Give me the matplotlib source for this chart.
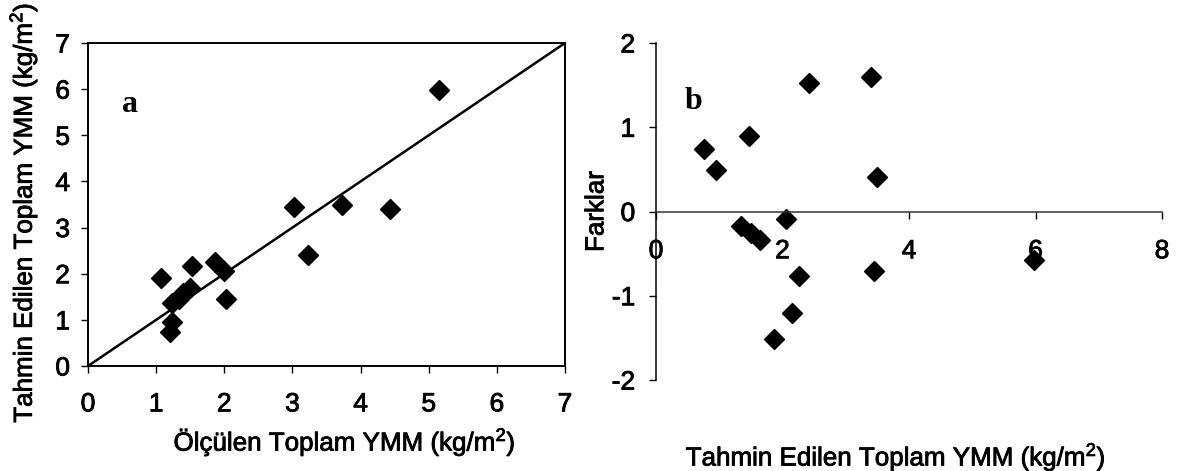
import matplotlib
matplotlib.use('Agg')
import matplotlib.pyplot as plt
import matplotlib.patheffects as pe

plt.rcParams['font.family'] = ['Liberation Sans', 'DejaVu Sans']
plt.rcParams['mathtext.fontset'] = 'custom'
plt.rcParams['mathtext.rm'] = 'Liberation Sans'
plt.rcParams['mathtext.default'] = 'regular'

# panel a: measured vs predicted
olculen = [5.15, 3.02, 3.73, 4.43, 3.23, 1.07, 1.52, 1.87, 2.00, 2.02,
           1.49, 1.40, 1.24, 1.24, 1.21, 1.33]
tahmin = [5.99, 3.44, 3.48, 3.41, 2.41, 1.91, 2.16, 2.25, 2.06, 1.46,
          1.69, 1.58, 1.37, 0.96, 0.74, 1.46]
line_x = [0, 7]
line_y = [0, 7]

# panel b: predicted vs differences
tahmin_b = [0.76, 0.95, 1.47, 2.42, 3.40, 3.49, 1.34, 1.50, 1.65, 2.05,
            2.26, 2.15, 1.87, 3.45, 5.97]
farklar = [0.745, 0.49, 0.90, 1.52, 1.60, 0.41, -0.17, -0.26, -0.34, -0.09,
           -0.76, -1.21, -1.51, -0.71, -0.58]

W, H = 1182, 471
TICK_FS = 19
LABEL_FS = 18.7
# scanned print looks a bit heavier than the plain font
heavy = [pe.withStroke(linewidth=0.6, foreground='black')]

fig = plt.figure(figsize=(W / 100, H / 100), dpi=100)

def box(l, t, r, b):
    return [l / W, 1 - b / H, (r - l) / W, (b - t) / H]

# --- a ---
ax1 = fig.add_axes(box(88, 43, 565, 366))
ax1.plot(line_x, line_y, color='black', lw=1.8)
ax1.plot(olculen, tahmin, 'D', color='black', ms=10.5, clip_on=False)
ax1.set_xlim(0, 7)
ax1.set_ylim(0, 7)
ax1.set_xticks(range(0, 8))
ax1.set_yticks(range(0, 8))
for s in ax1.spines.values():
    s.set_linewidth(1.4)
ax1.tick_params(axis='x', direction='out', length=5, width=1, pad=14, labelsize=TICK_FS)
ax1.tick_params(axis='y', direction='out', length=5, width=1, pad=8, labelsize=TICK_FS)
ax1.set_xlabel('Ölçülen Toplam YMM (kg/m$^2$)', fontsize=LABEL_FS, va='center')
ax1.xaxis.set_label_coords(0.538, -0.235)
ax1.set_ylabel('Tahmin Edilen Toplam YMM (kg/m$^2$)', fontsize=LABEL_FS, va='center')
ax1.yaxis.set_label_coords(-0.136, 0.475)
ax1.text(0.62, 5.66, 'a', fontsize=23, fontweight='bold',
         family='Liberation Serif', ha='center', va='center')

# --- b ---
ax2 = fig.add_axes(box(656, 43, 1162, 380))
ax2.plot(tahmin_b, farklar, 'D', color='black', ms=10.5, clip_on=False)
ax2.set_xlim(0, 8)
ax2.set_ylim(-2, 2)
ax2.set_xticks(range(0, 9, 2))
ax2.set_yticks(range(-2, 3))
ax2.spines['top'].set_visible(False)
ax2.spines['right'].set_visible(False)
ax2.spines['bottom'].set_position(('data', 0))
ax2.spines['bottom'].set_linewidth(1.1)
ax2.spines['bottom'].set_color('#333333')
ax2.spines['left'].set_linewidth(1.1)
ax2.tick_params(axis='x', direction='out', length=5, width=1, pad=15, labelsize=TICK_FS)
ax2.tick_params(axis='y', direction='out', length=5, width=1, pad=10, labelsize=TICK_FS)
ax2.set_yticklabels(['-2', '-1', '0', '1', '2'])
ax2.set_xlabel('Tahmin Edilen Toplam YMM (kg/m$^2$)', fontsize=LABEL_FS, va='center')
ax2.xaxis.set_label_coords(0.474, -0.228)
ax2.set_ylabel('Farklar', fontsize=LABEL_FS, va='center')
ax2.yaxis.set_label_coords(-0.118, 0.5)
ax2.text(0.585, 1.31, 'b', fontsize=23, fontweight='bold',
         family='Liberation Serif', ha='center', va='center')

for ax in (ax1, ax2):
    for t in ax.get_xticklabels() + ax.get_yticklabels():
        t.set_path_effects(heavy)
    ax.xaxis.label.set_path_effects(heavy)
    ax.yaxis.label.set_path_effects(heavy)

fig.savefig('out.png', dpi=100)
